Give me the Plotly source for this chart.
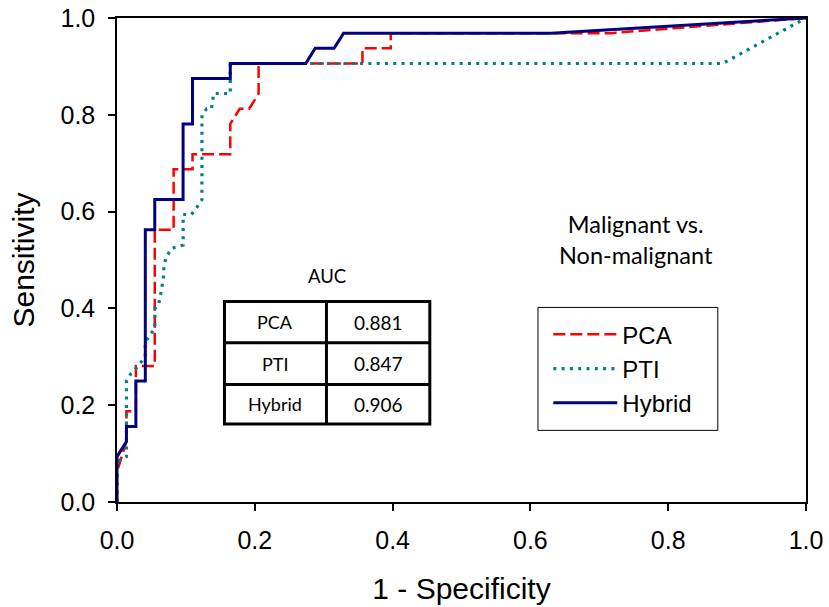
import plotly.graph_objects as go

# ROC curves: false positive rate (1 - specificity) vs. sensitivity
pca_fpr = [0.0, 0.0, 0.0137, 0.0137, 0.0274, 0.0274, 0.0548, 0.0548, 0.0822, 0.0822,
           0.1096, 0.1096, 0.1644, 0.1644, 0.1781, 0.1918, 0.2055, 0.2055, 0.3562, 0.3562,
           0.3973, 0.3973, 0.716, 1.0]
pca_tpr = [0.0, 0.0625, 0.125, 0.1875, 0.1875, 0.28125, 0.28125, 0.5625, 0.5625, 0.6875,
           0.6875, 0.71875, 0.71875, 0.78125, 0.8125, 0.8125, 0.84375, 0.90625, 0.90625, 0.9375,
           0.9375, 0.96875, 0.96875, 1.0]

pti_fpr = [0.0, 0.0, 0.0137, 0.0137, 0.0205, 0.0305, 0.041, 0.041, 0.0475, 0.055,
           0.055, 0.06, 0.0645, 0.068, 0.068, 0.072, 0.079, 0.096, 0.096, 0.108,
           0.116, 0.1233, 0.1233, 0.1301, 0.137, 0.1404, 0.1644, 0.1644, 0.879, 1.0]
pti_tpr = [0.0, 0.083, 0.094, 0.25, 0.266, 0.281, 0.30, 0.33, 0.344, 0.36,
           0.40, 0.405, 0.438, 0.47, 0.49, 0.507, 0.524, 0.531, 0.594, 0.594,
           0.609, 0.625, 0.80, 0.8125, 0.8125, 0.844, 0.844, 0.906, 0.906, 1.0]

hyb_fpr = [0.0, 0.0, 0.0137, 0.0137, 0.0274, 0.0274, 0.0411, 0.0411, 0.0548, 0.0548,
           0.0959, 0.0959, 0.1096, 0.1096, 0.1644, 0.1644, 0.274, 0.2877, 0.3151, 0.3288,
           0.63, 1.0]
hyb_tpr = [0.0, 0.09375, 0.125, 0.15625, 0.15625, 0.25, 0.25, 0.5625, 0.5625, 0.625,
           0.625, 0.78125, 0.78125, 0.875, 0.875, 0.90625, 0.90625, 0.9375, 0.9375, 0.96875,
           0.96875, 1.0]

# Area under curve table
auc_models = ["PCA", "PTI", "Hybrid"]
auc_values = ["0.881", "0.847", "0.906"]

ARIAL = "Liberation Sans, Arial, sans-serif"
CALIBRI = "Lato, Open Sans, sans-serif"

fig = go.Figure()
fig.add_trace(go.Scatter(x=pca_fpr, y=pca_tpr, mode="lines", name="PCA",
                         line=dict(color="#FF0000", width=2.5, dash="12px,5px")))
fig.add_trace(go.Scatter(x=pti_fpr, y=pti_tpr, mode="lines", name="PTI",
                         line=dict(color="#008080", width=3.2, dash="3px,5.3px")))
fig.add_trace(go.Scatter(x=hyb_fpr, y=hyb_tpr, mode="lines", name="Hybrid",
                         line=dict(color="#000080", width=3)))

# AUC table drawn in data coordinates of the unit square
tx0, tx1, tdiv = 0.156, 0.454, 0.304
ty = [0.414, 0.329, 0.243, 0.161]
line_k = dict(color="black", width=3)
fig.add_shape(type="rect", x0=tx0, x1=tx1, y0=ty[3], y1=ty[0], line=line_k,
              fillcolor="white", layer="above")
fig.add_shape(type="line", x0=tdiv, x1=tdiv, y0=ty[3], y1=ty[0], line=line_k)
for yy in ty[1:3]:
    fig.add_shape(type="line", x0=tx0, x1=tx1, y0=yy, y1=yy, line=line_k)
fig.add_annotation(x=(tx0 + tx1) / 2, y=0.466, text="AUC", showarrow=False,
                   font=dict(family=CALIBRI, size=18.5, color="black"))
for i, (m, v) in enumerate(zip(auc_models, auc_values)):
    yc = (ty[i] + ty[i + 1]) / 2
    fig.add_annotation(x=(tx0 + tdiv) / 2, y=yc, text=m, showarrow=False,
                       font=dict(family=CALIBRI, size=18, color="black"))
    fig.add_annotation(x=(tdiv + tx1) / 2, y=yc, text=v, showarrow=False,
                       font=dict(family=CALIBRI, size=19, color="black"))

fig.add_annotation(x=0.753, y=0.543, text="Malignant vs.<br>Non-malignant", showarrow=False,
                   font=dict(family=CALIBRI, size=23.5, color="black"), align="center")

# frame around the legend
fig.add_shape(type="rect", xref="paper", yref="paper",
              x0=0.611, x1=0.872, y0=0.148, y1=0.402,
              line=dict(color="black", width=1), layer="above")

axis_common = dict(range=[0, 1], dtick=0.2, tick0=0, tickformat=".1f",
                   ticks="outside", ticklen=7, tickwidth=1.5, tickcolor="black",
                   showline=True, linecolor="black", linewidth=1.5, mirror=True,
                   showgrid=False, zeroline=False, automargin=False,
                   ticklabelstandoff=8,
                   tickfont=dict(family=ARIAL, size=25, color="black"))

fig.update_layout(
    width=829, height=607,
    margin=dict(l=117, r=23, t=18, b=105),
    paper_bgcolor="white", plot_bgcolor="white",
    xaxis=dict(**axis_common, title=dict(text="1 - Specificity", standoff=25,
                                         font=dict(family=ARIAL, size=30, color="black"))),
    yaxis=dict(**axis_common, title=dict(text="Sensitivity", standoff=17,
                                         font=dict(family=ARIAL, size=30, color="black"))),
    showlegend=True,
    legend=dict(x=0.626, y=0.392, xanchor="left", yanchor="top",
                borderwidth=0, bgcolor="rgba(0,0,0,0)",
                font=dict(family=ARIAL, size=24, color="black"),
                itemwidth=64, tracegroupgap=0),
)

fig.write_html("out.html")
